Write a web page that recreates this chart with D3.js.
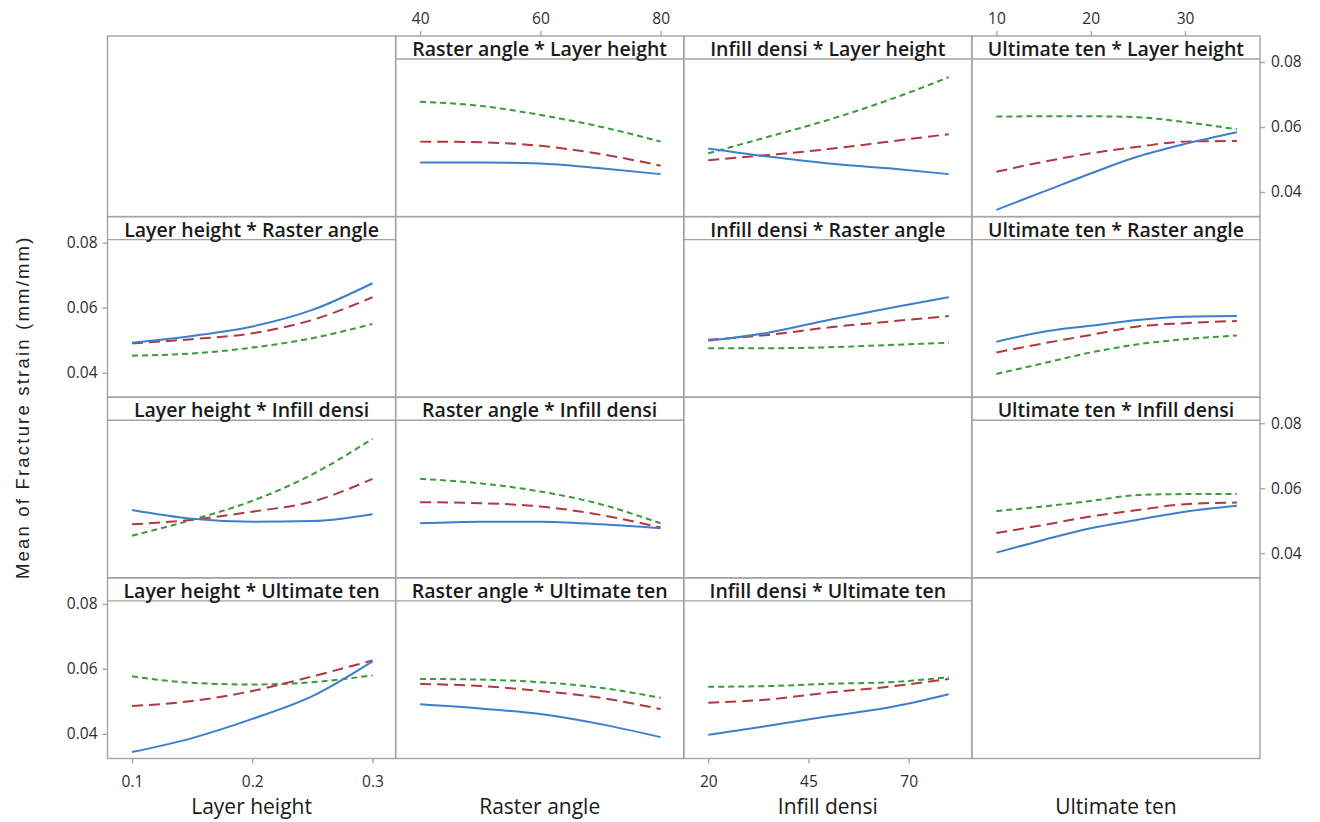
<!DOCTYPE html>
<html>
<head>
<meta charset="utf-8">
<script src="https://cdn.jsdelivr.net/npm/d3@7"></script>
<style>
  body { margin: 0; background: #fff; }
  svg { display: block; }
</style>
</head>
<body>
<svg id="chart" width="1320" height="822"></svg>
<script>
// Interaction plot for Fracture strain: factor names, axis domains and ticks
const factors = ["Layer height", "Raster angle", "Infill densi", "Ultimate ten"];
const xDomains = [[0.1, 0.3], [40, 80], [20, 80], [10, 35.5]];
const xTicks = [[0.1, 0.2, 0.3], [40, 60, 80], [20, 45, 70], [10, 20, 30]];
const yTicks = [0.04, 0.06, 0.08];
const yTitle = "Mean of Fracture strain (mm/mm)";

// x positions at which each factor's fitted means are listed
const xLayer = [0.1, 0.15, 0.2, 0.25, 0.3];
const xRaster = [40, 50, 60, 70, 80];
const xInfill = [20, 35, 50, 65, 80];
const xUltimate = [10, 15, 20, 25, 30, 35.5];

// Each panel: [low level (solid), mid level (long dash), high level (short dash)]
// Row 1: traced by Layer height
const rasterByLayer = [
  [0.0491, 0.0491, 0.0488, 0.0473, 0.0455],
  [0.0555, 0.0553, 0.0542, 0.0517, 0.0481],
  [0.0678, 0.0665, 0.0637, 0.0601, 0.0555]
];
const infillByLayer = [
  [0.0534, 0.0509, 0.0488, 0.0473, 0.0455],
  [0.0498, 0.0514, 0.0532, 0.0555, 0.0578],
  [0.0519, 0.0570, 0.0622, 0.0683, 0.0753]
];
const ultimateByLayer = [
  [0.0345, 0.0401, 0.0457, 0.0509, 0.0548, 0.0584],
  [0.0462, 0.0493, 0.0519, 0.0539, 0.0555, 0.0557],
  [0.0632, 0.0633, 0.0633, 0.0630, 0.0615, 0.0593]
];
// Row 2: traced by Raster angle
const layerByRaster = [
  [0.0492, 0.0513, 0.0542, 0.0593, 0.0675],
  [0.0490, 0.0503, 0.0521, 0.0562, 0.0632],
  [0.0452, 0.0459, 0.0477, 0.0506, 0.0550]
];
const infillByRaster = [
  [0.0498, 0.0523, 0.0562, 0.0598, 0.0632],
  [0.0501, 0.0516, 0.0539, 0.0557, 0.0574],
  [0.0475, 0.0475, 0.0478, 0.0485, 0.0492]
];
const ultimateByRaster = [
  [0.0495, 0.0526, 0.0544, 0.0562, 0.0572, 0.0574],
  [0.0462, 0.0490, 0.0516, 0.0542, 0.0552, 0.0559],
  [0.0396, 0.0429, 0.0462, 0.0487, 0.0503, 0.0514]
];
// Row 3: traced by Infill density
const layerByInfill = [
  [0.0533, 0.0506, 0.0497, 0.0499, 0.0520],
  [0.0489, 0.0503, 0.0528, 0.0559, 0.0629],
  [0.0454, 0.0503, 0.0561, 0.0643, 0.0752]
];
const rasterByInfill = [
  [0.0492, 0.0497, 0.0497, 0.0489, 0.0477],
  [0.0557, 0.0554, 0.0544, 0.0518, 0.0479],
  [0.0629, 0.0615, 0.0590, 0.0551, 0.0492]
];
const ultimateByInfill = [
  [0.0402, 0.0441, 0.0477, 0.0503, 0.0528, 0.0546],
  [0.0462, 0.0487, 0.0513, 0.0533, 0.0551, 0.0556],
  [0.0530, 0.0544, 0.0561, 0.0579, 0.0582, 0.0582]
];
// Row 4: traced by Ultimate tensile strength
const layerByUltimate = [
  [0.0344, 0.0387, 0.0446, 0.0516, 0.0623],
  [0.0486, 0.0501, 0.0532, 0.0577, 0.0626],
  [0.0577, 0.0557, 0.0552, 0.0559, 0.0580]
];
const rasterByUltimate = [
  [0.0491, 0.0478, 0.0461, 0.0430, 0.0390],
  [0.0554, 0.0547, 0.0532, 0.0511, 0.0476],
  [0.0569, 0.0567, 0.0559, 0.0542, 0.0511]
];
const infillByUltimate = [
  [0.0397, 0.0425, 0.0454, 0.0481, 0.0522],
  [0.0496, 0.0506, 0.0527, 0.0545, 0.0569],
  [0.0545, 0.0547, 0.0554, 0.0559, 0.0574]
];

const xValues = [xLayer, xRaster, xInfill, xUltimate];
// grid[row][col]: panel series, null on the diagonal
const grid = [
  [null, rasterByLayer, infillByLayer, ultimateByLayer],
  [layerByRaster, null, infillByRaster, ultimateByRaster],
  [layerByInfill, rasterByInfill, null, ultimateByInfill],
  [layerByUltimate, rasterByUltimate, infillByUltimate, null]
];

const colors = ["#3d7fcc", "#b0393f", "#3a9b3a"];
const dashes = [null, "11,6", "6,4"];

// ---- layout ----
const gridLeft = 107.5, gridTop = 36, gridRight = 1260, gridBottom = 758.5;
const colW = (gridRight - gridLeft) / 4;
const rowH = (gridBottom - gridTop) / 4;
const stripH = 23;
const colLeft = c => gridLeft + c * colW;
const rowTop = r => gridTop + r * rowH;

const xScale = c => d3.scaleLinear().domain(xDomains[c]).range([colLeft(c) + 24.5, colLeft(c) + 265]);
const yScale = r => d3.scaleLinear().domain([0.04, 0.08]).range([rowTop(r) + 156, rowTop(r) + 26]);

const svg = d3.select("#chart");
const borderColor = "#a3a3a3";
const fontFamily = "'Open Sans', 'Noto Sans', sans-serif";

// lines first, frames on top
for (let r = 0; r < 4; r++) {
  for (let c = 0; c < 4; c++) {
    const series = grid[r][c];
    if (!series) continue;
    const xs = xScale(c), ys = yScale(r);
    const xv = xValues[c];
    const line = d3.line()
      .x((d, i) => xs(xv[i]))
      .y(d => ys(d))
      .curve(d3.curveMonotoneX);
    const g = svg.append("g");
    // draw high level first so the solid line sits on top
    [2, 1, 0].forEach(k => {
      g.append("path")
        .attr("d", line(series[k]))
        .attr("fill", "none")
        .attr("stroke", colors[k])
        .attr("stroke-width", 2)
        .attr("stroke-dasharray", dashes[k]);
    });
  }
}

// panel frames and title strips
for (let r = 0; r < 4; r++) {
  for (let c = 0; c < 4; c++) {
    svg.append("rect")
      .attr("x", colLeft(c)).attr("y", rowTop(r))
      .attr("width", colW).attr("height", rowH)
      .attr("fill", "none").attr("stroke", borderColor).attr("stroke-width", 1.4);
    if (r === c) continue;
    svg.append("line")
      .attr("x1", colLeft(c)).attr("x2", colLeft(c) + colW)
      .attr("y1", rowTop(r) + stripH).attr("y2", rowTop(r) + stripH)
      .attr("stroke", borderColor).attr("stroke-width", 1.4);
    svg.append("text")
      .attr("x", colLeft(c) + colW / 2)
      .attr("y", rowTop(r) + stripH / 2 + 1)
      .attr("text-anchor", "middle")
      .attr("dominant-baseline", "central")
      .attr("font-family", fontFamily)
      .attr("font-size", 19.5)
      .attr("font-weight", 600)
      .attr("fill", "#1a1a1a")
      .text(factors[c] + " * " + factors[r]);
  }
}

// axes
function styleAxis(g) {
  g.select(".domain").remove();
  g.selectAll(".tick line").attr("stroke", borderColor).attr("stroke-width", 1.3);
  g.selectAll(".tick text")
    .attr("font-family", fontFamily)
    .attr("font-size", 15.5)
    .attr("fill", "#2e2e2e");
}
const yFmt = d3.format(".2f");
[1, 3].forEach(r => {
  svg.append("g").attr("transform", `translate(${gridLeft},0)`)
    .call(d3.axisLeft(yScale(r)).tickValues(yTicks).tickFormat(yFmt).tickSize(5).tickPadding(5))
    .call(styleAxis);
});
[0, 2].forEach(r => {
  svg.append("g").attr("transform", `translate(${gridRight},0)`)
    .call(d3.axisRight(yScale(r)).tickValues(yTicks).tickFormat(yFmt).tickSize(5).tickPadding(6))
    .call(styleAxis);
});
[1, 3].forEach(c => {
  svg.append("g").attr("transform", `translate(0,${gridTop})`)
    .call(d3.axisTop(xScale(c)).tickValues(xTicks[c]).tickFormat(d3.format("")).tickSize(5).tickPadding(7))
    .call(styleAxis);
});
[0, 2].forEach(c => {
  svg.append("g").attr("transform", `translate(0,${gridBottom})`)
    .call(d3.axisBottom(xScale(c)).tickValues(xTicks[c]).tickFormat(d3.format("")).tickSize(5).tickPadding(12))
    .call(styleAxis);
});

// axis titles
factors.forEach((f, c) => {
  svg.append("text")
    .attr("x", colLeft(c) + colW / 2)
    .attr("y", 814)
    .attr("text-anchor", "middle")
    .attr("font-family", fontFamily)
    .attr("font-size", 21)
    .attr("fill", "#1a1a1a")
    .text(f);
});
svg.append("text")
  .attr("transform", `translate(29,${(gridTop + gridBottom) / 2 + 10}) rotate(-90)`)
  .attr("text-anchor", "middle")
  .attr("font-family", "'Liberation Sans', Arial, sans-serif")
  .attr("font-size", 18.5)
  .attr("letter-spacing", 2.2)
  .attr("fill", "#222")
  .text(yTitle);
</script>
</body>
</html>
